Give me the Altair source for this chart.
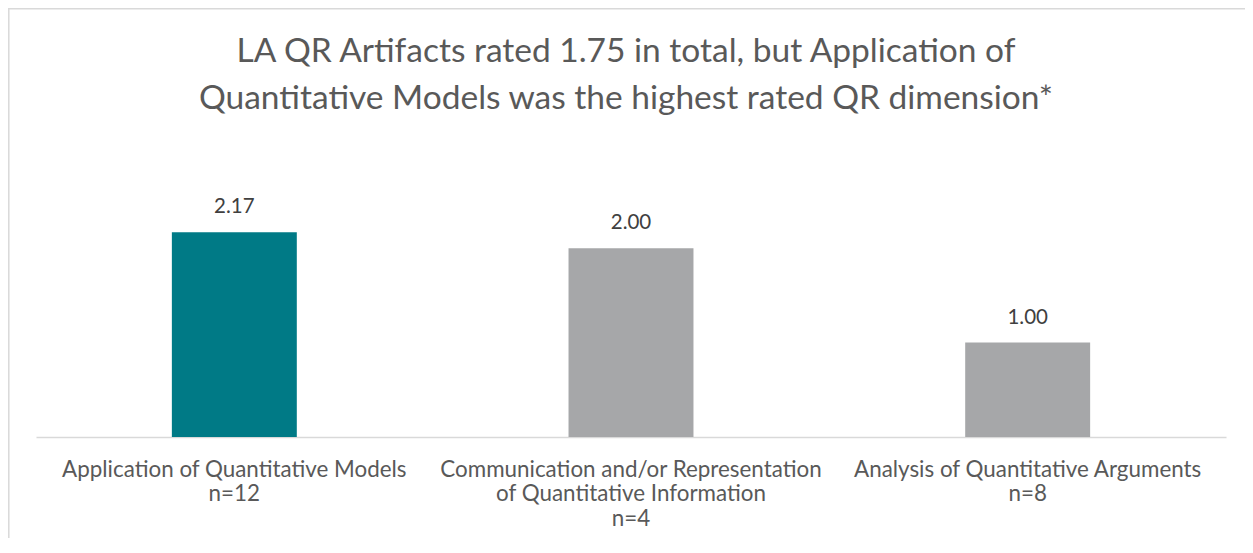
import altair as alt
import pandas as pd

categories = [
    "Application of Quantitative Models|n=12",
    "Communication and/or Representation|of Quantitative Information|n=4",
    "Analysis of Quantitative Arguments|n=8",
]
values = [2.17, 2.00, 1.00]
bar_colors = ["#007A86", "#A6A7A9", "#A6A7A9"]
value_labels = ["2.17", "2.00", "1.00"]

title_lines = [
    "LA QR Artifacts rated 1.75 in total, but Application of",
    "Quantitative Models was the highest rated QR dimension*",
]

df = pd.DataFrame({
    "category": categories,
    "value": values,
    "color": bar_colors,
    "label": value_labels,
})

FONT = "Lato"

x_enc = alt.X(
    "category:N",
    sort=None,
    scale=alt.Scale(paddingInner=0.685, paddingOuter=0.3425),
    axis=alt.Axis(
        title=None,
        labelAngle=0,
        ticks=False,
        domainColor="#D9D9D9",
        domainWidth=1.5,
        labelExpr="split(datum.value, '|')",
        labelFont=FONT,
        labelFontSize=22.4,
        labelColor="#595959",
        labelLineHeight=24.5,
        labelBaseline="alphabetic",
        labelPadding=39,
        labelLimit=0,
    ),
)
y_enc = alt.Y("value:Q", scale=alt.Scale(domain=[0, 2.5]), axis=None)

bars = alt.Chart(df).mark_bar().encode(
    x=x_enc,
    y=y_enc,
    color=alt.Color("color:N", scale=None, legend=None),
)

texts = alt.Chart(df).mark_text(
    baseline="alphabetic", dy=-19, font=FONT, fontSize=20.5, color="#404040"
).encode(x=x_enc, y=y_enc, text="label:N")

border_data = alt.Data(values=[{"b": 1}])
left_border = alt.Chart(border_data).mark_rule(color="#D9D9D9", strokeWidth=1.5).encode(
    x=alt.value(-27.2), y=alt.value(-193), y2=alt.value(340)
)
top_border = alt.Chart(border_data).mark_rule(color="#D9D9D9", strokeWidth=1.5).encode(
    x=alt.value(-28), x2=alt.value(1220), y=alt.value(-192.2)
)

chart = alt.layer(left_border, top_border, bars, texts).properties(
    width=1190,
    height=236,
    autosize=alt.AutoSizeParams(type="none"),
    padding={"left": 28, "top": 193, "right": 19, "bottom": 101},
    background="white",
    title=alt.TitleParams(
        text=title_lines,
        font=FONT,
        fontSize=33.5,
        fontWeight="normal",
        color="#595959",
        lineHeight=47,
        anchor="middle",
        baseline="alphabetic",
        dx=-5,
        offset=-135,
    ),
).configure_view(stroke=None)

chart.save("out.html", embed_options={"renderer": "svg", "actions": False})
